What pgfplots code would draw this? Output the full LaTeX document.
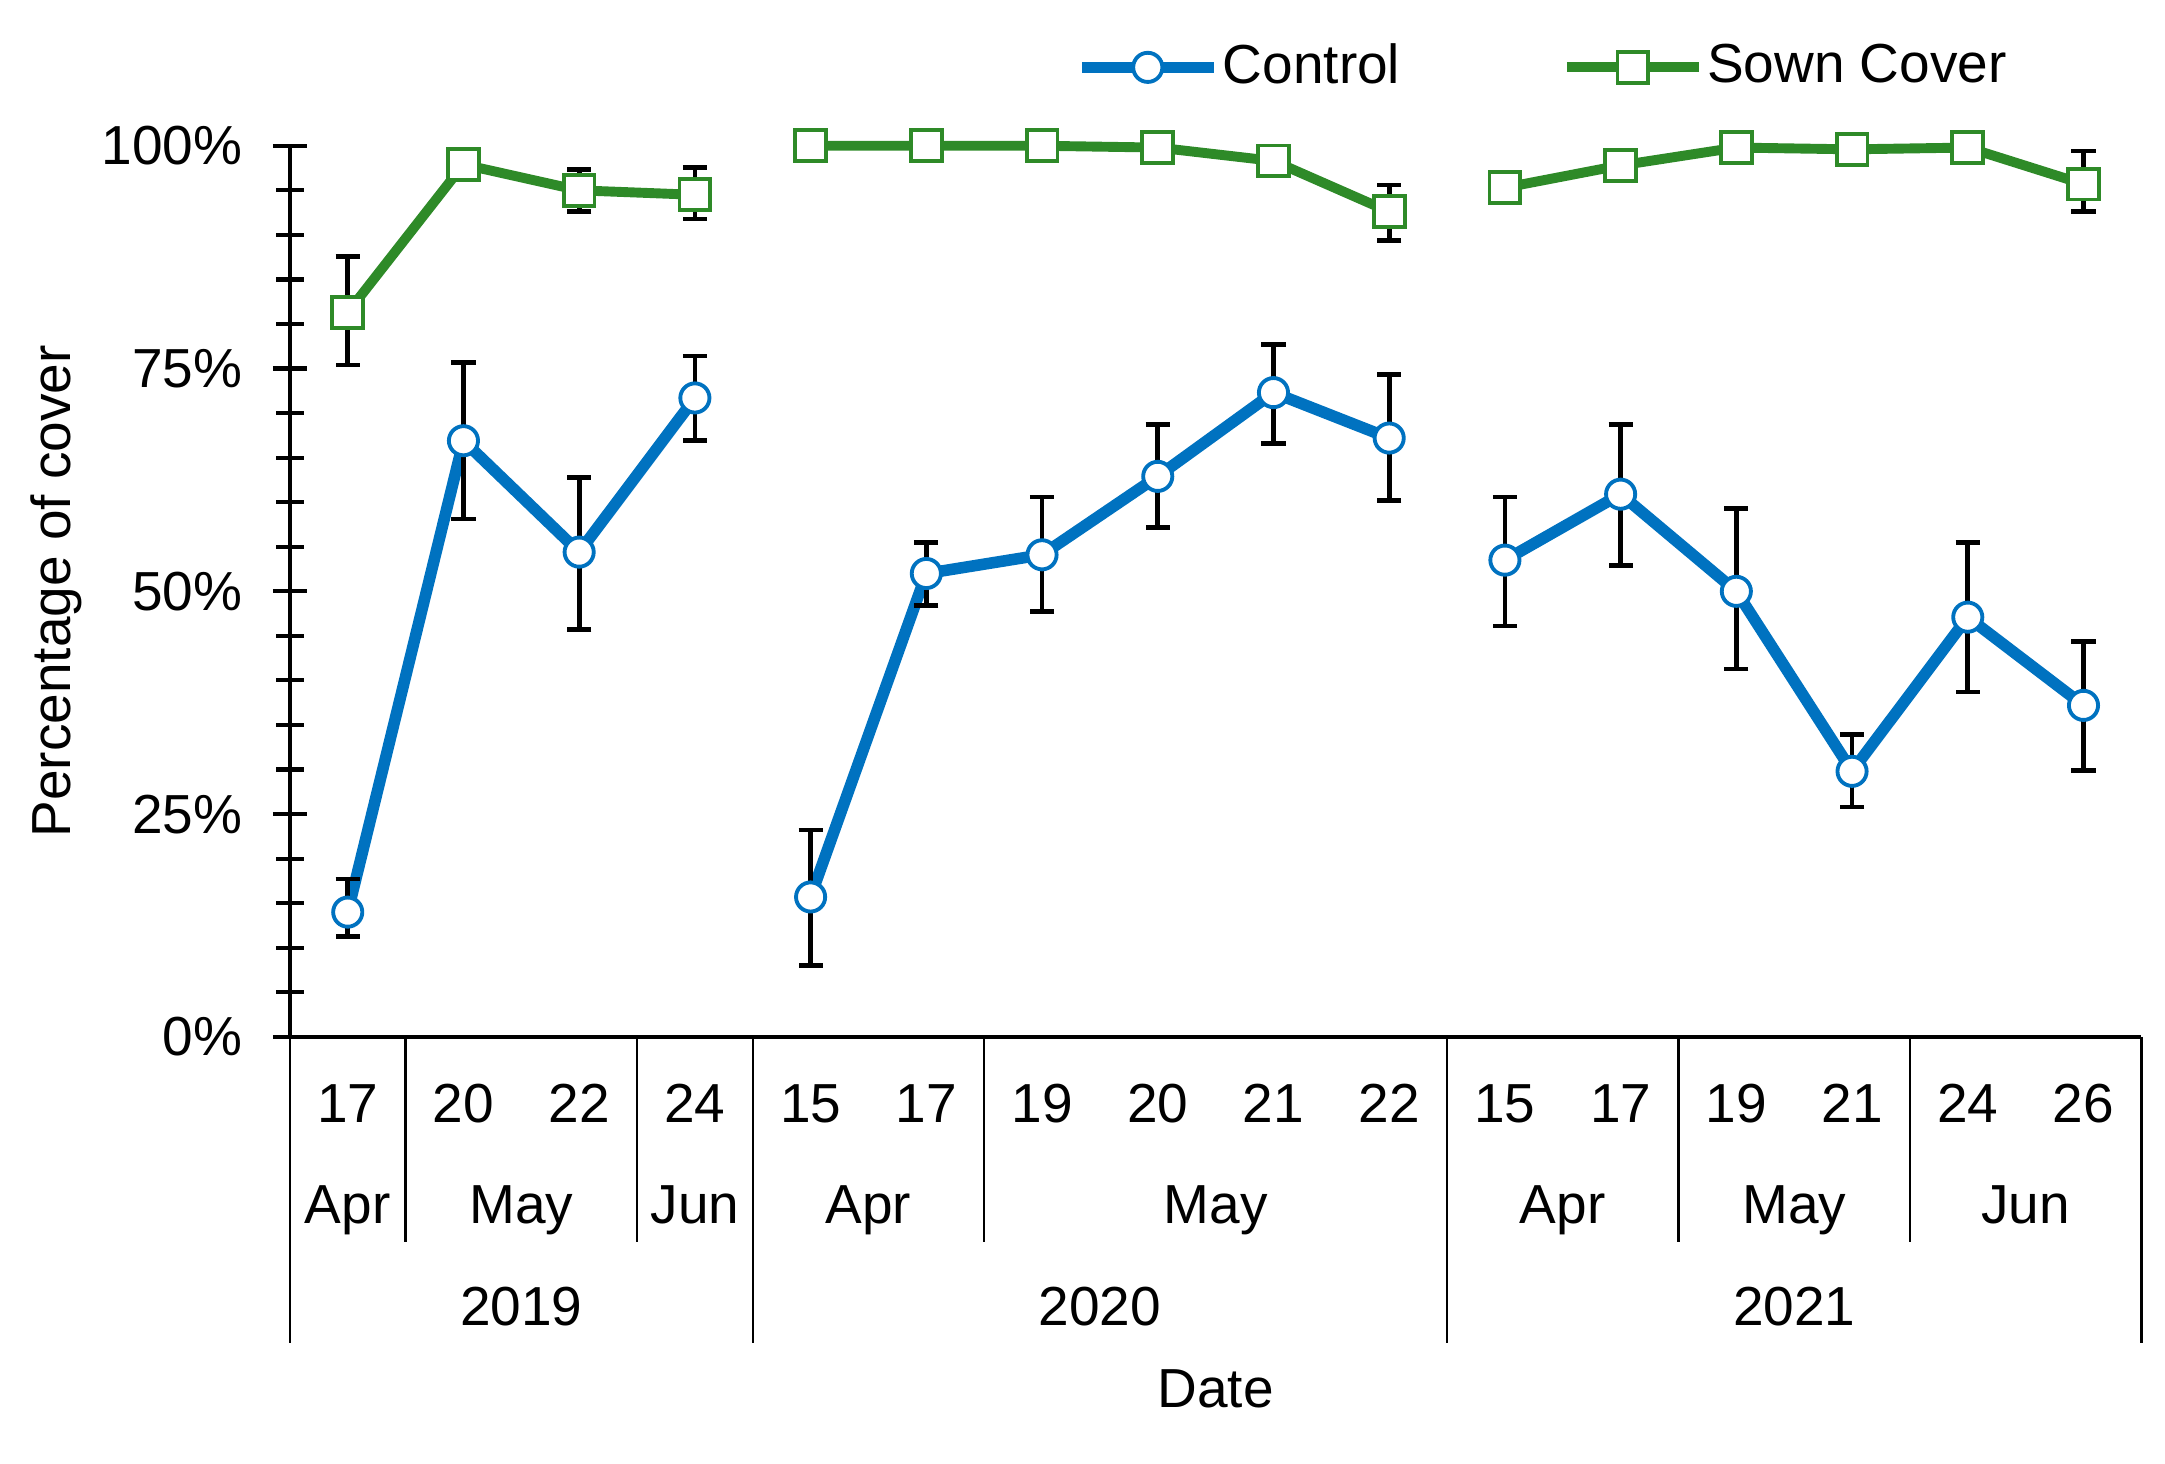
\documentclass[border=0pt]{standalone}
\usepackage{pgfplots}
\pgfplotsset{compat=1.18}
\usepackage{pgfplotstable}
\usepackage{fontspec}
\setmainfont{Liberation Sans}

\definecolor{ctrlblue}{RGB}{0,114,192}
\definecolor{sowngreen}{RGB}{46,138,40}

% x  y  plus  minus  (nan rows break the line between years)
\pgfplotstableread{
x y ep em
1 14.0 3.7 2.7
2 66.9 8.8 8.8
3 54.4 8.4 8.7
4 71.7 4.7 4.8
4.5 nan 0 0
5 15.7 7.5 7.7
6 52.0 3.5 3.6
7 54.1 6.5 6.4
8 62.9 5.8 5.7
9 72.3 5.4 5.7
10 67.2 7.1 7.0
10.5 nan 0 0
11 53.5 7.1 7.4
12 60.9 7.8 8.0
13 50.0 9.3 8.7
14 29.8 4.1 4.0
15 47.1 8.4 8.4
16 37.2 7.2 7.3
}\control

\pgfplotstableread{
x y ep em
1 81.3 6.3 5.9
2 97.9 0.8 0.8
3 95.0 2.3 2.4
4 94.5 3.1 2.7
4.5 nan 0 0
5 100 0 0
6 100 0 0
7 100 0 0
8 99.8 0 0
9 98.3 0.5 0.5
10 92.6 3.0 3.2
10.5 nan 0 0
11 95.3 0.5 0.5
12 97.8 0.5 0.5
13 99.8 0 0
14 99.6 0.3 0.3
15 99.8 0 0
16 95.7 3.7 3.1
}\sown

\tikzset{sep/.style={line width=0.45pt}, lab/.style={anchor=base, inner sep=0pt}}

\begin{document}
\fontsize{10}{12}\selectfont
\begin{tikzpicture}
\path[use as bounding box] (0,0) rectangle (393.6pt,266pt);
\begin{axis}[
    at={(52.7pt,77.5pt)}, anchor=south west,
    width=336.6pt, height=162pt, scale only axis,
    xmin=0.5, xmax=16.5,
    ymin=0, ymax=100,
    axis x line*=bottom, axis y line*=left,
    axis line style={line width=0.8pt},
    clip=false,
    unbounded coords=jump,
    xtick={1,...,16},
    xticklabels={17,20,22,24,15,17,19,20,21,22,15,17,19,21,24,26},
    major x tick style={draw=none},
    xticklabel style={anchor=base, yshift=-12.4pt},
    ytick={0,25,50,75,100},
    yticklabels={0\%,25\%,50\%,75\%,100\%},
    minor y tick num=4,
    tick align=center,
    major tick length=6.2pt, minor tick length=5pt,
    every tick/.style={black, line width=0.75pt},
    yticklabel style={xshift=-2pt},
    legend columns=2,
    legend style={draw=none, fill=none, inner sep=0pt,
        at={(0.424,1.088)}, anchor=west,
        nodes={inner sep=0.6pt},
        /tikz/every even column/.append style={column sep=28.8pt}},
    legend image code/.code={\draw[mark repeat=2,mark phase=2,#1]
        plot coordinates {(0pt,0pt) (12pt,0pt) (24pt,0pt)};},
    error bars/error bar style={black, line width=0.85pt},
    error bars/error mark options={black, rotate=90, mark size=2.2pt, line width=0.85pt},
]
\addplot[ctrlblue, line width=2.1pt, mark=*,
    mark options={fill=white, draw=ctrlblue, line width=0.7pt}, mark size=2.65pt,
    error bars/.cd, y dir=both, y explicit]
    table[x=x, y=y, y error plus=ep, y error minus=em] {\control};
\addlegendentry{Control}
\addplot[sowngreen, line width=1.8pt, mark=square*,
    mark options={fill=white, draw=sowngreen, line width=0.7pt}, mark size=2.8pt,
    error bars/.cd, y dir=both, y explicit]
    table[x=x, y=y, y error plus=ep, y error minus=em] {\sown};
\addlegendentry{Sown Cover}

% month separators
\draw[sep] (axis cs:1.5,0) -- ++(0pt,-37.3pt);
\draw[sep] (axis cs:3.5,0) -- ++(0pt,-37.3pt);
\draw[sep] (axis cs:6.5,0) -- ++(0pt,-37.3pt);
\draw[sep] (axis cs:12.5,0) -- ++(0pt,-37.3pt);
\draw[sep] (axis cs:14.5,0) -- ++(0pt,-37.3pt);
% year separators
\draw[sep] (axis cs:0.5,0) -- ++(0pt,-55.7pt);
\draw[sep] (axis cs:4.5,0) -- ++(0pt,-55.7pt);
\draw[sep] (axis cs:10.5,0) -- ++(0pt,-55.7pt);
\draw[sep] (axis cs:16.5,0) -- ++(0pt,-55.7pt);

% month labels
\node[lab] at ([yshift=-33.9pt]axis cs:1,0) {Apr};
\node[lab] at ([yshift=-33.9pt]axis cs:2.5,0) {May};
\node[lab] at ([yshift=-33.9pt]axis cs:4,0) {Jun};
\node[lab] at ([yshift=-33.9pt]axis cs:5.5,0) {Apr};
\node[lab] at ([yshift=-33.9pt]axis cs:8.5,0) {May};
\node[lab] at ([yshift=-33.9pt]axis cs:11.5,0) {Apr};
\node[lab] at ([yshift=-33.9pt]axis cs:13.5,0) {May};
\node[lab] at ([yshift=-33.9pt]axis cs:15.5,0) {Jun};
% year labels
\node[lab] at ([yshift=-52.5pt]axis cs:2.5,0) {2019};
\node[lab] at ([yshift=-52.5pt]axis cs:7.5,0) {2020};
\node[lab] at ([yshift=-52.5pt]axis cs:13.5,0) {2021};
\node[lab] at ([yshift=-67.4pt]axis cs:8.5,0) {Date};
\node[rotate=90, inner sep=0pt] at ([xshift=-42.4pt]rel axis cs:0,0.5) {Percentage of cover};
\end{axis}
\end{tikzpicture}
\end{document}
